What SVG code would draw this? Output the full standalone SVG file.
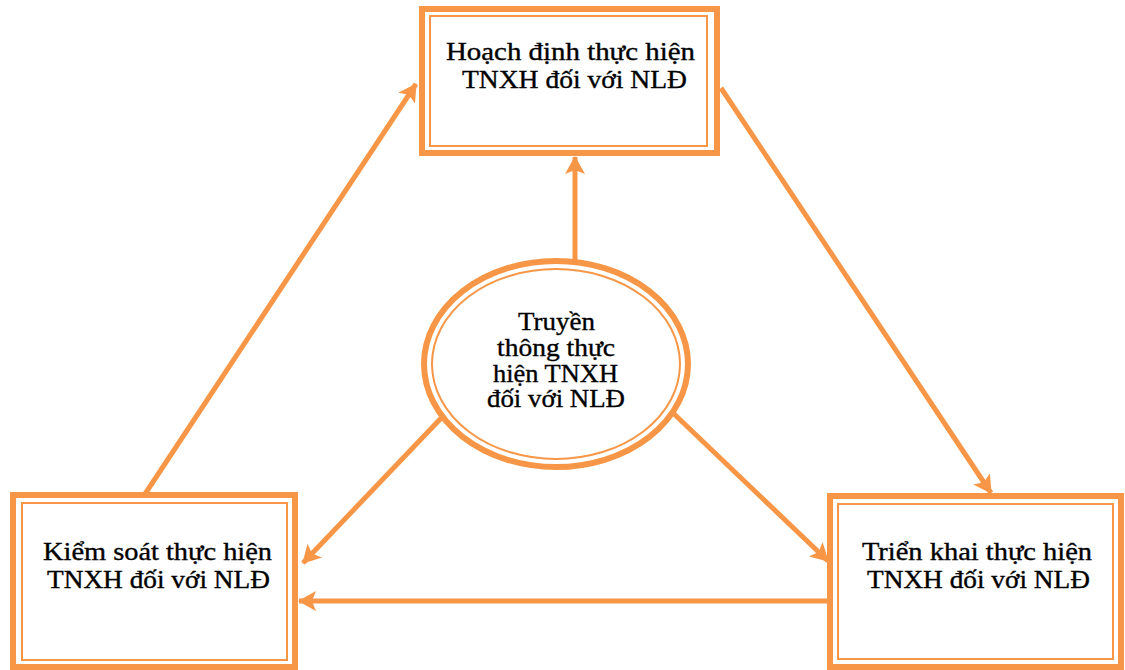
<svg xmlns="http://www.w3.org/2000/svg" width="1125" height="670" viewBox="0 0 1125 670">
  <defs>
    <marker id="arrow" markerUnits="userSpaceOnUse" markerWidth="18" markerHeight="20" refX="17" refY="10" orient="auto">
      <path d="M0,0 L18,10 L0,20 L4,10 z" fill="#F79646"/>
    </marker>
  </defs>
  <style>
    .outer { fill: #ffffff; stroke: #F79646; stroke-width: 6; }
    .inner { fill: none; stroke: #F79646; stroke-width: 2; }
    .conn { stroke: #F79646; stroke-width: 5; fill: none; marker-end: url(#arrow); }
    .lbl { font-family: "Liberation Serif", "Times New Roman", serif; font-size: 25px; fill: #000000; stroke: #000000; stroke-width: 0.35; }
  </style>
  <rect width="1125" height="670" fill="#ffffff"/>
  <g id="connectors">
    <line class="conn" x1="575" y1="280" x2="575" y2="157"/>
    <line class="conn" x1="145" y1="494" x2="416" y2="84"/>
    <line class="conn" x1="721" y1="88" x2="991" y2="493"/>
    <line class="conn" x1="445" y1="414" x2="303" y2="563"/>
    <line class="conn" x1="672" y1="412" x2="828" y2="561"/>
    <line class="conn" x1="829" y1="601" x2="299" y2="601"/>
  </g>
  <g id="node-hoach-dinh">
    <rect class="outer" x="422" y="9" width="295" height="144"/>
    <rect class="inner" x="430" y="16" width="277" height="130"/>
    <text class="lbl" x="446" y="60" textLength="249" lengthAdjust="spacingAndGlyphs">Hoạch định thực hiện</text>
    <text class="lbl" x="462" y="88" textLength="225" lengthAdjust="spacingAndGlyphs">TNXH đối với NLĐ</text>
  </g>
  <g id="node-truyen-thong">
    <ellipse class="outer" cx="556" cy="364" rx="132" ry="103"/>
    <ellipse class="inner" cx="556" cy="364" rx="124" ry="95" stroke-width="1.5"/>
    <text class="lbl" x="518" y="330" textLength="77" lengthAdjust="spacingAndGlyphs">Truyền</text>
    <text class="lbl" x="497" y="356" textLength="118" lengthAdjust="spacingAndGlyphs">thông thực</text>
    <text class="lbl" x="493" y="382" textLength="125" lengthAdjust="spacingAndGlyphs">hiện TNXH</text>
    <text class="lbl" x="487" y="407" textLength="138" lengthAdjust="spacingAndGlyphs">đối với NLĐ</text>
  </g>
  <g id="node-kiem-soat">
    <rect class="outer" x="13" y="495" width="282" height="172"/>
    <rect class="inner" x="22" y="503" width="265" height="157"/>
    <text class="lbl" x="43" y="560" textLength="229" lengthAdjust="spacingAndGlyphs">Kiểm soát thực hiện</text>
    <text class="lbl" x="47" y="588" textLength="223" lengthAdjust="spacingAndGlyphs">TNXH đối với NLĐ</text>
  </g>
  <g id="node-trien-khai">
    <rect class="outer" x="830" y="496" width="291" height="171"/>
    <rect class="inner" x="838" y="504" width="275" height="155"/>
    <text class="lbl" x="862" y="560" textLength="230" lengthAdjust="spacingAndGlyphs">Triển khai thực hiện</text>
    <text class="lbl" x="867" y="588" textLength="223" lengthAdjust="spacingAndGlyphs">TNXH đối với NLĐ</text>
  </g>
</svg>
